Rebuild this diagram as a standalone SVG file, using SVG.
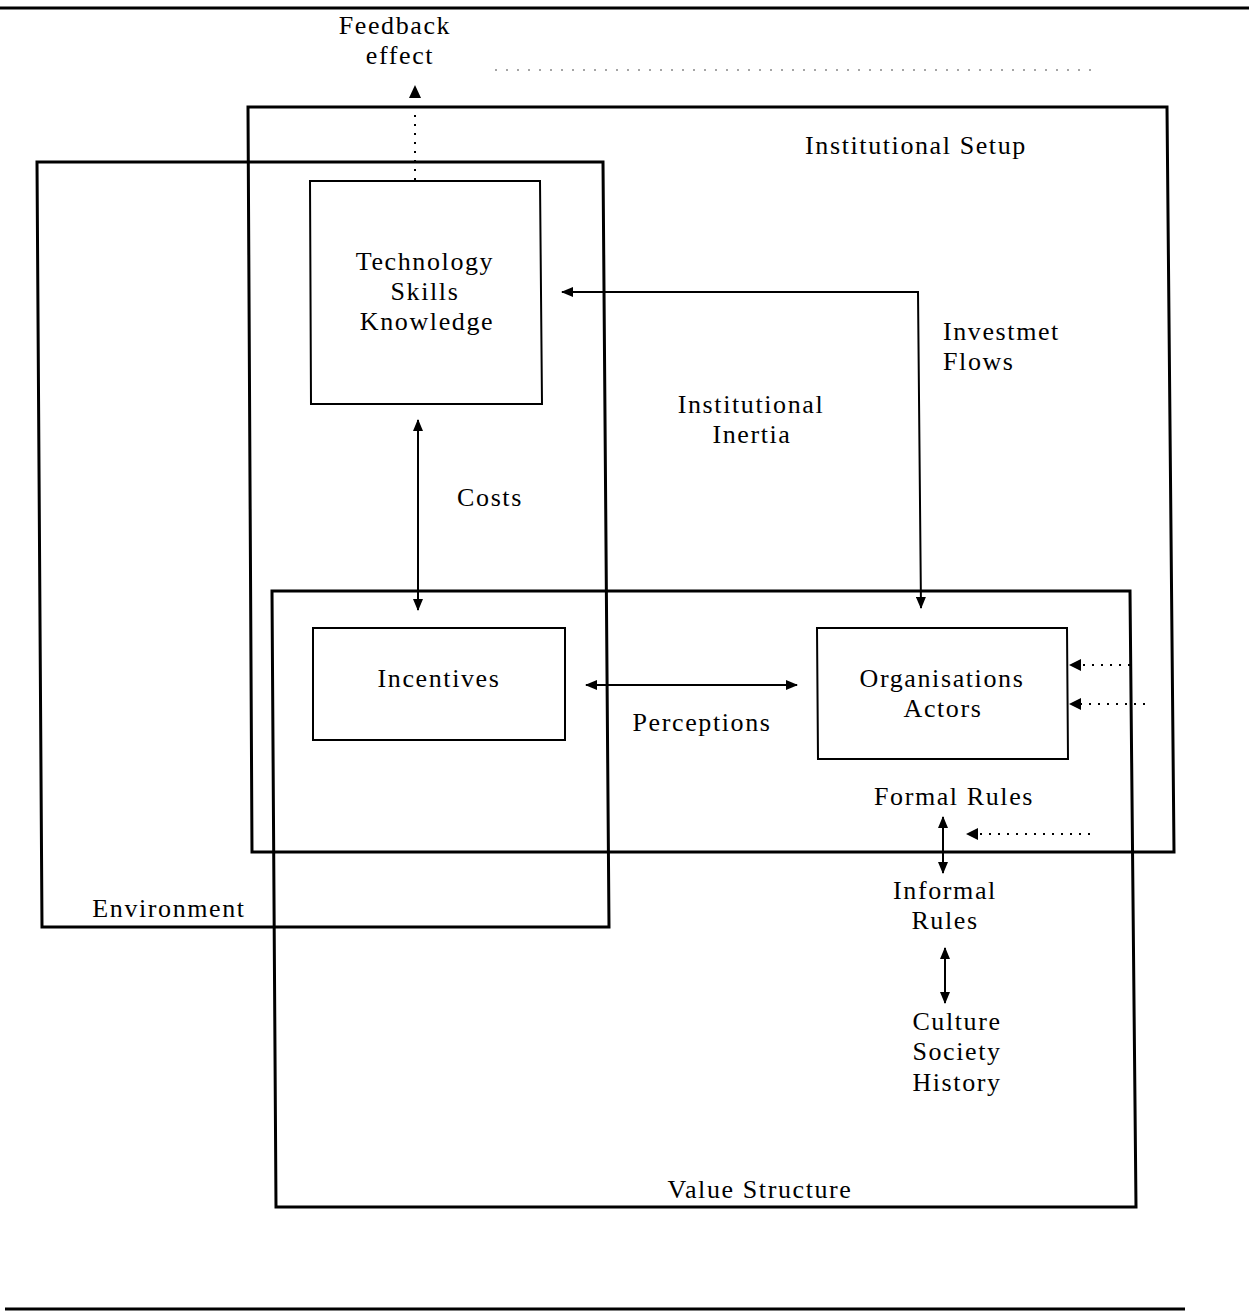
<svg xmlns="http://www.w3.org/2000/svg" width="1249" height="1311" viewBox="0 0 1249 1311">
  <style>
    .frame { fill: none; stroke: #000; stroke-width: 3; }
    .box { fill: none; stroke: #000; stroke-width: 2; }
    .link { fill: none; stroke: #000; stroke-width: 2; }
    .dot { fill: none; stroke: #000; stroke-width: 2; stroke-dasharray: 2 7; }
    .faint { fill: none; stroke: #888; stroke-width: 1.5; stroke-dasharray: 2 9; }
    .rule { stroke: #000; stroke-width: 3; }
    text { font-family: "Liberation Serif", "DejaVu Serif", serif; font-size: 26px; letter-spacing: 1.6px; fill: #000; }
    .c { text-anchor: middle; }
  </style>
  <defs>
    <marker id="head" viewBox="0 0 12 10" refX="11" refY="5" markerWidth="12" markerHeight="10" markerUnits="userSpaceOnUse" orient="auto-start-reverse">
      <path d="M0,0 L12,5 L0,10 Z" fill="#000"/>
    </marker>
  </defs>

  <rect width="1249" height="1311" fill="#fff"/>

  <!-- page rules -->
  <line class="rule" x1="0" y1="8" x2="1249" y2="8"/>
  <line class="rule" x1="5" y1="1309" x2="1185" y2="1309"/>

  <!-- enclosing areas -->
  <g id="institutional-setup">
    <path class="frame" d="M248,107 L1167,107 L1174,852 L252,852 Z"/>
    <text x="916" y="154" class="c">Institutional Setup</text>
  </g>
  <g id="environment">
    <path class="frame" d="M37,162 L603,162 L609,927 L42,927 Z"/>
    <text x="169" y="917" class="c">Environment</text>
  </g>
  <g id="value-structure">
    <path class="frame" d="M272,591 L1130,591 L1136,1207 L276,1207 Z"/>
    <text x="760" y="1198" class="c">Value Structure</text>
  </g>

  <!-- inner nodes -->
  <g id="technology">
    <path class="box" d="M310,181 L540,181 L542,404 L311,404 Z"/>
    <text x="425" y="270" class="c">Technology</text>
    <text x="425" y="300" class="c">Skills</text>
    <text x="427" y="330" class="c">Knowledge</text>
  </g>
  <g id="incentives">
    <rect class="box" x="313" y="628" width="252" height="112"/>
    <text x="439" y="687" class="c">Incentives</text>
  </g>
  <g id="organisations">
    <path class="box" d="M817,628 L1067,628 L1068,759 L818,759 Z"/>
    <text x="942" y="687" class="c">Organisations</text>
    <text x="943" y="717" class="c">Actors</text>
  </g>
  <g id="feedback">
    <text x="395" y="34" class="c">Feedback</text>
    <text x="400" y="64" class="c">effect</text>
  </g>
  <g id="formal-rules">
    <text x="954" y="805" class="c">Formal Rules</text>
  </g>
  <g id="informal-rules">
    <text x="945" y="899" class="c">Informal</text>
    <text x="945" y="929" class="c">Rules</text>
  </g>
  <g id="culture">
    <text x="957" y="1030" class="c">Culture</text>
    <text x="957" y="1060" class="c">Society</text>
    <text x="957" y="1091" class="c">History</text>
  </g>

  <!-- connector labels -->
  <g id="labels">
    <text x="943" y="340">Investmet</text>
    <text x="943" y="370">Flows</text>
    <text x="751" y="413" class="c">Institutional</text>
    <text x="752" y="443" class="c">Inertia</text>
    <text x="490" y="506" class="c">Costs</text>
    <text x="702" y="731" class="c">Perceptions</text>
  </g>

  <!-- connectors -->
  <g id="connectors">
    <line class="dot" x1="415" y1="180" x2="415" y2="100"/>
    <path d="M409,98 L415,85 L421,98 Z" fill="#000"/>
    <line class="link" x1="418" y1="420" x2="418" y2="610" marker-start="url(#head)" marker-end="url(#head)"/>
    <path class="link" d="M562,292 L918,292 L921,608" marker-start="url(#head)" marker-end="url(#head)"/>
    <line class="link" x1="586" y1="685" x2="797" y2="685" marker-start="url(#head)" marker-end="url(#head)"/>
    <line class="dot" x1="1130" y1="665" x2="1080" y2="665"/>
    <path d="M1081,659 L1069,665 L1081,671 Z" fill="#000"/>
    <line class="dot" x1="1145" y1="704" x2="1080" y2="704"/>
    <path d="M1081,698 L1069,704 L1081,710 Z" fill="#000"/>
    <line class="dot" x1="1090" y1="834" x2="978" y2="834"/>
    <path d="M978,828 L966,834 L978,840 Z" fill="#000"/>
    <line class="link" x1="943" y1="817" x2="943" y2="873" marker-start="url(#head)" marker-end="url(#head)"/>
    <line class="link" x1="945" y1="948" x2="945" y2="1003" marker-start="url(#head)" marker-end="url(#head)"/>
    <line class="faint" x1="495" y1="70" x2="1100" y2="70"/>
  </g>
</svg>
